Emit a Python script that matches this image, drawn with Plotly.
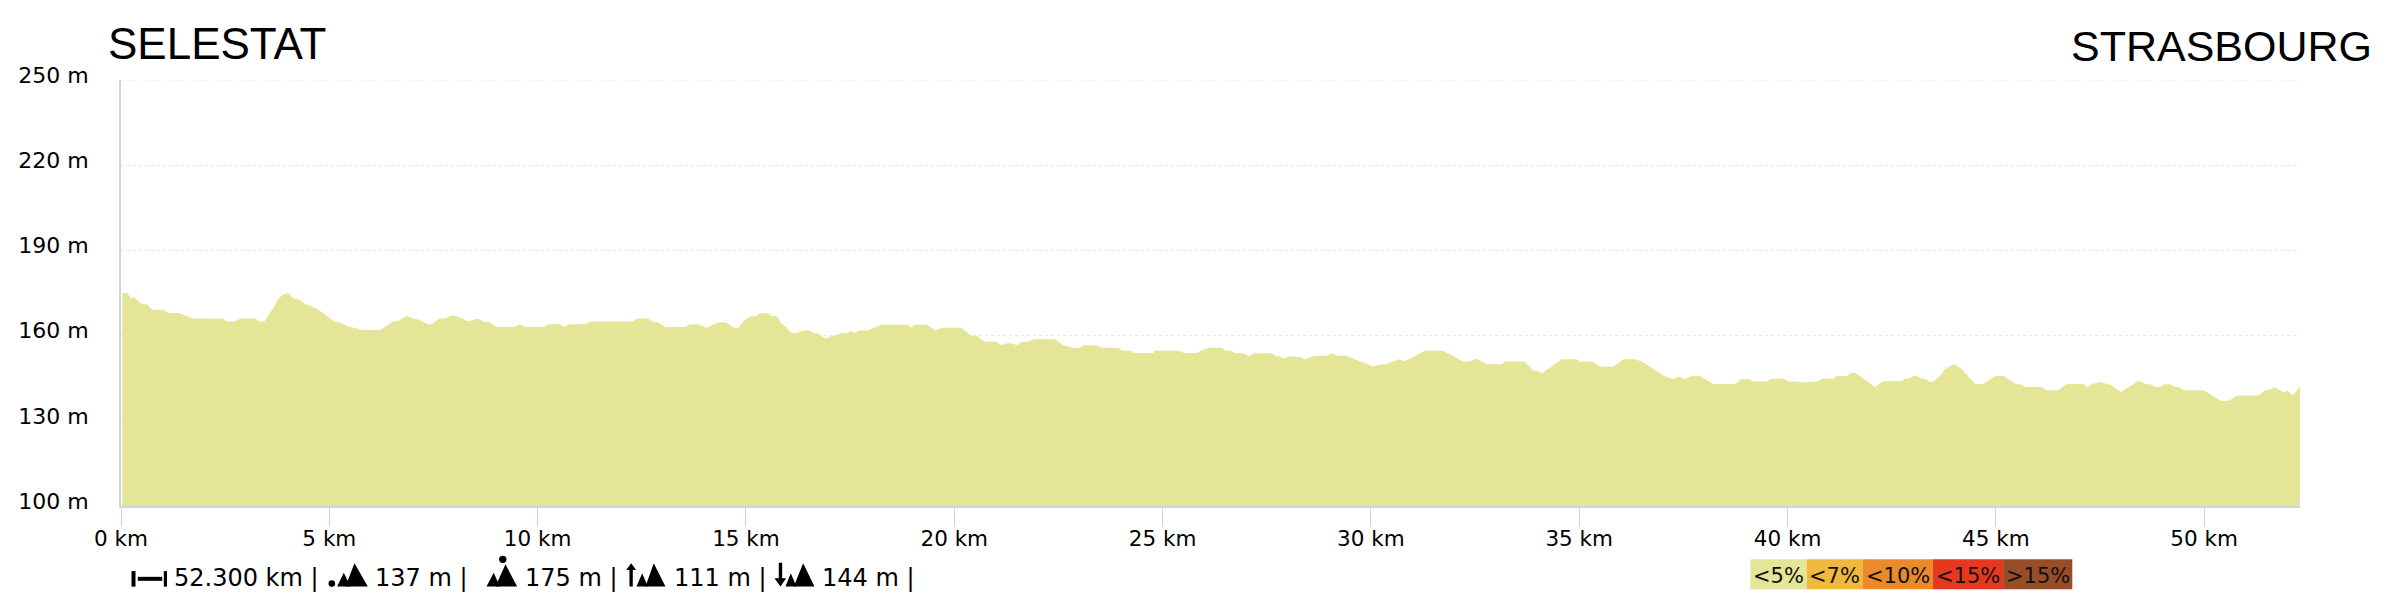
import plotly.graph_objects as go

# Profile: distance (km) and altitude (m)
distance_km = [
0.03,0.15,0.24,0.32,0.43,0.52,0.63,0.75,1.02,1.14,1.39,1.53,1.71,2.45,2.54,2.73,2.86,3.23,3.32,3.44,
3.60,3.78,3.87,4.01,4.15,4.24,4.43,4.56,4.75,5.12,5.25,5.48,5.62,5.76,6.22,6.54,6.68,6.86,7.0,7.14,
7.37,7.46,7.64,7.78,7.92,8.01,8.2,8.33,8.56,8.7,8.84,9.02,9.44,9.57,9.71,10.17,10.26,10.54,10.63,10.77,
11.14,11.27,12.29,12.38,12.65,12.75,12.88,13.07,13.53,13.66,13.85,
14.06,14.2,14.33,14.52,14.7,14.81,14.98,15.11,15.25,15.35,15.53,15.62,15.73,15.85,15.94,16.08,16.22,16.36,16.54,
16.63,16.72,16.91,17.05,17.18,17.28,17.46,17.52,17.62,17.71,17.92,18.06,18.24,18.88,18.98,19.02,19.34,19.55,19.71,20.17,
20.4,20.56,20.72,21.0,21.14,21.3,21.5,21.64,21.78,21.92,22.42,22.61,22.84,23.02,23.11,23.43,23.53,23.94,24.03,24.22,
24.31,24.77,24.81,25.41,25.52,25.82,25.92,26.1,26.42,26.51,26.65,26.74,26.93,27.07,27.2,27.62,27.71,27.8,27.89,28.03,
28.33,28.41,28.65,28.93,29.05,29.21,29.41,29.61,29.77,30.05,30.13,30.37,30.69,30.77,30.97,31.29,31.73,31.93,32.21,32.37,
32.49,32.57,32.77,33.13,33.21,33.69,33.89,33.97,34.11,34.58,34.94,35.02,35.3,35.5,35.82,36.06,36.34,36.5,36.7,37.02,
37.26,37.4,37.52,37.7,37.9,38.22,38.74,38.9,39.06,39.18,39.5,39.62,39.9,40.02,40.18,40.34,
40.74,40.82,41.1,41.18,41.42,41.54,41.62,42.1,42.3,42.74,42.82,42.9,43.02,43.1,43.22,43.3,43.42,43.5,43.66,43.78,
44.0,44.18,44.46,44.5,44.7,44.98,45.18,45.46,45.62,45.7,46.1,46.22,46.5,46.7,47.1,47.19,47.3,47.5,47.67,47.75,
48.0,48.43,48.59,48.71,48.83,48.95,49.03,49.19,49.31,49.39,49.51,49.99,50.39,50.59,50.79,51.31,51.47,51.59,51.69,51.91,
51.99,52.13,52.3]
altitude_m = [
175,175,173,173.5,172,171,171,169,169,168,168,167,166,166,165,165,166,166,165,165,
168.5,173,174.3,175,173,173,171,170.5,169,165,164.6,163,162.7,162,162,165,165.3,167,166,165.7,
164,164,166,166,167,167,166,165,166,165,164.7,163,163,164,163,163,164,164,163,164,
164,165,165,166,166,165,164.7,163,163,164,164,
162.8,163.8,164.7,164.7,162.8,162.8,165.5,166.7,166.9,167.9,167.9,166.9,166.9,164.3,163.2,161,160.8,161.8,161.8,
160.8,160.8,159,159.9,160.2,160.8,161,161.6,160.8,161.8,161.8,162.8,163.8,163.8,162.8,163.8,163.8,161.8,162.8,162.8,
160,159.9,157.9,157.8,156.7,157.5,156.7,157.8,157.8,158.7,158.7,156.7,155.7,155.7,156.6,156.6,155.7,155.7,154.7,154.7,
153.9,153.9,154.7,154.7,153.9,153.9,154.7,155.7,155.7,154.7,154.7,153.8,153.8,152.7,153.8,153.8,152.7,152.7,151.9,152.7,
152.4,151.7,152.9,152.9,153.8,152.9,152.9,151.7,150.9,149.1,149.6,150,151.7,151,152,154.7,154.7,153.2,150.9,150.9,
151.7,151.7,149.9,149.9,150.9,150.9,147.7,147.7,146.8,151.7,151.7,150.9,150.9,149,149,151.7,151.7,150.9,149.1,145.9,
144.7,145.6,144.7,145.8,145.8,143,143,144.7,144.7,143.8,143.8,144.8,144.8,143.8,143.8,143.5,
143.9,144.8,144.8,145.8,145.8,146.9,146.9,141.9,143.9,143.9,144.8,144.8,145.8,145.8,144.8,144.8,143.7,143.8,145.8,148.2,
149.9,148.2,143.9,143,143,145.8,145.8,143.1,142.7,141.9,141.9,140.8,140.8,143,143,141.9,142.9,143.7,143,142.7,
140.1,144.1,143,142.9,141.9,141.9,142.9,142.9,141.9,141.9,140.8,140.8,137.1,137.1,138.9,138.9,140.8,141,141.9,140,
140.8,138.9,142]

x_ticks = [0, 5, 10, 15, 20, 25, 30, 35, 40, 45, 50]
x_tick_labels = ["0 km", "5 km", "10 km", "15 km", "20 km", "25 km", "30 km", "35 km", "40 km", "45 km", "50 km"]
y_ticks = [100, 130, 160, 190, 220, 250]
y_tick_labels = ["100 m", "130 m", "160 m", "190 m", "220 m", "250 m"]

start_name = "SELESTAT"
end_name = "STRASBOURG"
summary_texts = ["52.300 km |", "137 m |", "175 m |", "111 m |", "144 m |"]
slope_labels = ["<5%", "<7%", "<10%", "<15%", ">15%"]
slope_colors = ["#E4E596", "#F0B93E", "#EB8A2B", "#E5381F", "#974D28"]

# Page layout, in pixels
W, H = 2400, 600
L, R, T, B = 120.5, 2299.6, 79.5, 506.5
FONT = "DejaVu Sans"
AXIS = "#c9d6dc"
GRID = "#e6e6e6"
BLACK = "#000000"
PW, PH = R - L, B - T
def px(x): return (x - L) / PW
def py(y): return (B - y) / PH

fig = go.Figure(go.Scatter(
    x=distance_km, y=altitude_m, mode="lines", fill="tozeroy",
    fillcolor=slope_colors[0], line=dict(width=0, color=slope_colors[0]),
    hoverinfo="x+y", showlegend=False))

shapes = []
annotations = []
def text(x, y, s, size, family=FONT, anchor="left", color=BLACK):
    annotations.append(dict(xref="paper", yref="paper", x=px(x), y=py(y), text=s, showarrow=False,
                            xanchor=anchor, yanchor="middle", borderpad=0, borderwidth=0,
                            font=dict(family=family, size=size, color=color)))
def poly(points):
    path = "M " + " L ".join(f"{px(a):.5f},{py(b):.5f}" for a, b in points) + " Z"
    shapes.append(dict(type="path", xref="paper", yref="paper", path=path,
                       fillcolor=BLACK, line=dict(width=0), layer="above"))
def dot(cx, cy, r):
    shapes.append(dict(type="circle", xref="paper", yref="paper", x0=px(cx - r), x1=px(cx + r),
                       y0=py(cy + r), y1=py(cy - r), fillcolor=BLACK, line=dict(width=0)))
def mountains(a0, a1, ax, ay, b0, b1, bx, by, base=587.3):
    poly([(a0, base), (ax, ay), (a1, base)])
    poly([(b0, base), (bx, by), (b1, base)])

# Top gridline (plotly drops the gridline sitting on the range end)
shapes.append(dict(type="line", xref="paper", yref="y", x0=0, x1=1, y0=y_ticks[-1], y1=y_ticks[-1],
                   line=dict(color=GRID, width=1, dash="dot"), layer="below"))

# Titles
text(107, 42.5, start_name, 44, "Liberation Sans")
text(2070.5, 45, end_name, 43, "Liberation Sans")

# Summary strip: text
for xpos, s in zip([174, 375, 525, 674, 822], summary_texts):
    text(xpos, 579, s, 24)

# Summary strip: icons
poly([(131, 571.7), (135, 571.7), (135, 587.3), (131, 587.3)])
poly([(137.3, 577.5), (161.7, 577.5), (161.7, 581.5), (137.3, 581.5)])
poly([(163.3, 571.7), (166.5, 571.7), (166.5, 587.3), (163.3, 587.3)])

dot(331.3, 584.3, 3.3)
mountains(336.7, 350, 343.3, 573.3, 345, 367.3, 354, 564)

dot(502.3, 560, 3.7)
mountains(486, 499.3, 493.3, 573.3, 495, 516.7, 505, 565)

poly([(625.7, 570.7), (630.7, 564), (635.7, 570.7), (632.3, 570.7), (632.3, 587.3), (629, 587.3), (629, 570.7)])
mountains(636, 647.3, 641.7, 574, 645, 665, 653.3, 564)

poly([(778.3, 563.3), (781.7, 563.3), (781.7, 579), (785.7, 579), (780, 587.3), (774, 579), (778.3, 579)])
mountains(785, 796, 790.3, 574, 793.3, 814, 802.7, 564)

# Slope key
edges = [1750, 1806.3, 1862.5, 1932.6, 2002.7, 2071.9]
for i, (lab, col) in enumerate(zip(slope_labels, slope_colors)):
    shapes.append(dict(type="rect", xref="paper", yref="paper", x0=px(edges[i]), x1=px(edges[i + 1]),
                       y0=py(590), y1=py(560), fillcolor=col, line=dict(width=0)))
    text((edges[i] + edges[i + 1]) / 2, 576.5, lab, 21, anchor="center", color="#111111")

fig.update_layout(
    width=W, height=H, margin=dict(l=L, r=W - R, t=T, b=H - B, pad=0, autoexpand=False),
    paper_bgcolor="white", plot_bgcolor="white", showlegend=False,
    shapes=shapes, annotations=annotations,
    xaxis=dict(range=[0, 52.3], tickmode="array", tickvals=x_ticks, ticktext=x_tick_labels,
               showgrid=False, zeroline=False, showline=True, linecolor=AXIS, linewidth=2,
               ticks="outside", ticklen=19, tickwidth=1, tickcolor=AXIS, ticklabelstandoff=-7,
               tickfont=dict(family=FONT, size=21.5, color=BLACK)),
    yaxis=dict(range=[100, 250], tickmode="array", tickvals=y_ticks, ticktext=y_tick_labels,
               showgrid=True, gridcolor=GRID, griddash="dot", gridwidth=1, zeroline=False,
               showline=True, linecolor=AXIS, linewidth=2, ticks="",
               ticklabelstandoff=26, ticklabelshift=-5,
               tickfont=dict(family=FONT, size=22, color=BLACK)),
)

fig.write_html("out.html", config=dict(displayModeBar=False),
               post_script="document.body.style.margin='0';")
